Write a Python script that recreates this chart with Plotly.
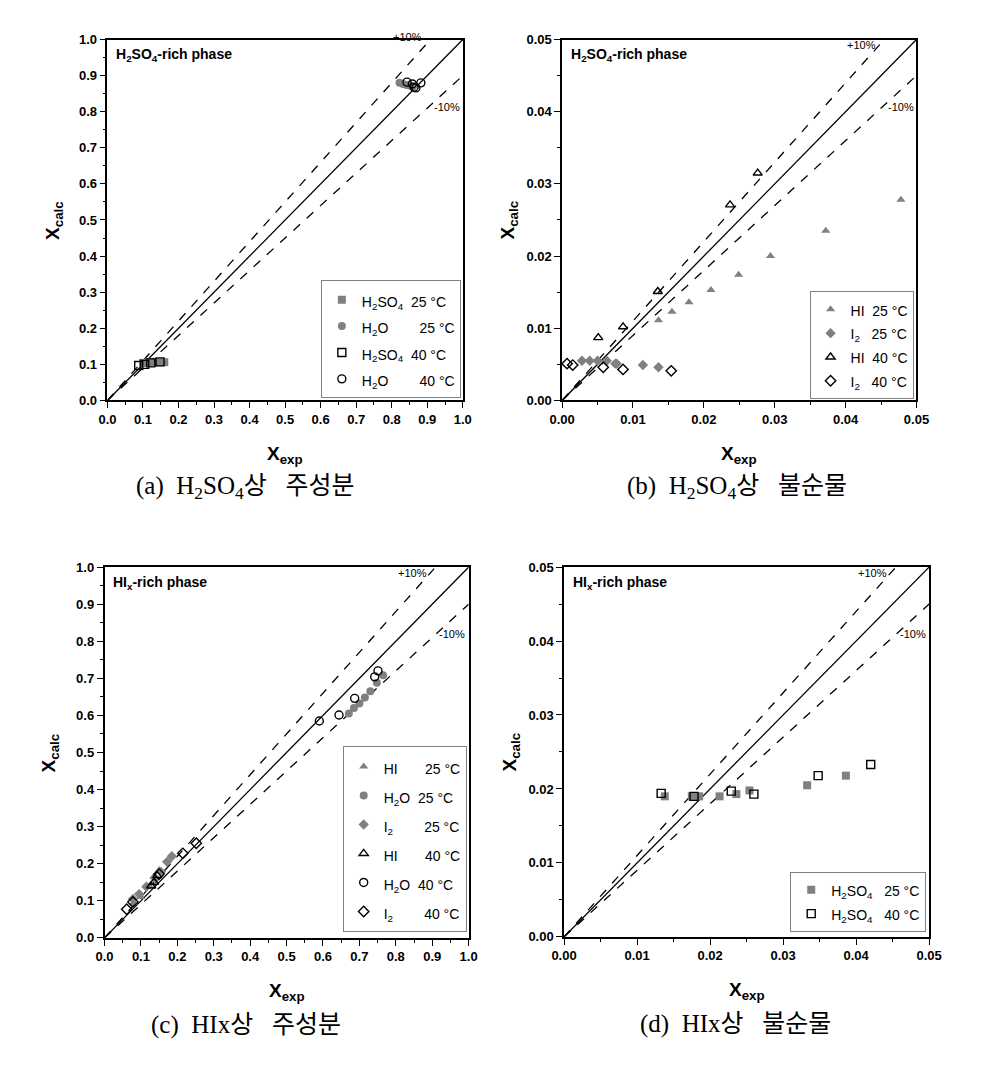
import plotly.graph_objects as go

# ---------------- data ----------------
# Panel (a): H2SO4-rich phase, main components
a_h2so4_25_x = [0.100, 0.115, 0.130, 0.145, 0.160]
a_h2so4_25_y = [0.104, 0.105, 0.105, 0.106, 0.106]
a_h2o_25_x = [0.822, 0.832, 0.842, 0.852, 0.860]
a_h2o_25_y = [0.880, 0.877, 0.874, 0.872, 0.870]
a_h2so4_40_x = [0.088, 0.105, 0.122, 0.148]
a_h2so4_40_y = [0.097, 0.100, 0.104, 0.107]
a_h2o_40_x = [0.843, 0.858, 0.863, 0.868, 0.882]
a_h2o_40_y = [0.882, 0.877, 0.868, 0.866, 0.880]

# Panel (b): H2SO4-rich phase, impurities
b_hi_25_x = [0.0136, 0.0155, 0.0179, 0.0210, 0.0249, 0.0294, 0.0372, 0.0478]
b_hi_25_y = [0.0111, 0.0123, 0.0136, 0.0153, 0.0174, 0.0200, 0.0235, 0.0278]
b_i2_25_x = [0.0028, 0.0039, 0.0050, 0.0063, 0.0075, 0.0077, 0.0114, 0.0136]
b_i2_25_y = [0.0055, 0.0055, 0.0055, 0.0055, 0.0051, 0.0051, 0.0049, 0.0046]
b_hi_40_x = [0.0051, 0.0086, 0.0135, 0.0237, 0.0276]
b_hi_40_y = [0.0087, 0.0102, 0.0151, 0.0271, 0.0315]
b_i2_40_x = [0.0007, 0.0015, 0.0058, 0.0086, 0.0154]
b_i2_40_y = [0.0051, 0.0049, 0.0046, 0.0043, 0.0041]

# Panel (c): HIx-rich phase, main components
c_hi_25_x = [0.080, 0.100, 0.123, 0.135, 0.150]
c_hi_25_y = [0.095, 0.110, 0.140, 0.165, 0.183]
c_h2o_25_x = [0.671, 0.685, 0.700, 0.715, 0.730, 0.748, 0.765]
c_h2o_25_y = [0.605, 0.620, 0.632, 0.648, 0.665, 0.688, 0.708]
c_i2_25_x = [0.078, 0.095, 0.115, 0.140, 0.155, 0.172, 0.185]
c_i2_25_y = [0.105, 0.118, 0.138, 0.160, 0.178, 0.205, 0.220]
c_hi_40_x = [0.128, 0.136, 0.145]
c_hi_40_y = [0.140, 0.150, 0.168]
c_h2o_40_x = [0.590, 0.644, 0.687, 0.742, 0.751]
c_h2o_40_y = [0.585, 0.601, 0.646, 0.704, 0.720]
c_i2_40_x = [0.061, 0.078, 0.150, 0.215, 0.252]
c_i2_40_y = [0.077, 0.097, 0.172, 0.228, 0.255]

# Panel (d): HIx-rich phase, impurity
d_h2so4_25_x = [0.0138, 0.0175, 0.0185, 0.0213, 0.0236, 0.0254, 0.0333, 0.0386]
d_h2so4_25_y = [0.0190, 0.0190, 0.0190, 0.0190, 0.0193, 0.0198, 0.0205, 0.0218]
d_h2so4_40_x = [0.0133, 0.0178, 0.0229, 0.0260, 0.0348, 0.0420]
d_h2so4_40_y = [0.0194, 0.0190, 0.0197, 0.0193, 0.0218, 0.0233]

ref_ratios = [1.0, 1.1, 0.9]

nb = "\u00a0"
captions = [f"(a){nb*2}H<sub>2</sub>SO<sub>4</sub>상{nb*3}주성분", f"(b){nb*2}H<sub>2</sub>SO<sub>4</sub>상{nb*3}불순물",
            f"(c){nb*2}HIx상{nb*3}주성분", f"(d){nb*2}HIx상{nb*3}불순물"]
phase_titles = ["<b>H<sub>2</sub>SO<sub>4</sub>-rich phase</b>", "<b>H<sub>2</sub>SO<sub>4</sub>-rich phase</b>",
                "<b>HI<sub>x</sub>-rich phase</b>", "<b>HI<sub>x</sub>-rich phase</b>"]

W, H = 984, 1077
GRAY = "#808080"
FONT = "Arial, Liberation Sans, sans-serif"

# pixel boxes (left, right, top, bottom)
boxes = {
    1: (97, 462, 33, 399),
    2: (564, 928, 33, 399),
    3: (94, 468, 568, 944),
    4: (566, 941, 568, 943),
}
caption_cx = {1: 239, 2: 744, 3: 239, 4: 742}
plus_dy = {1: -3, 2: 6, 3: 6, 4: 6}

def px2x(p): return p / W
def py2y(p): return 1 - p / H

fig = go.Figure()

def add_series(k, x, y, name, symbol, filled, legend):
    sfx = "" if k == 1 else str(k)
    if filled:
        marker = dict(symbol=symbol, size=8, color=GRAY, line=dict(width=0))
    else:
        marker = dict(symbol=symbol + "-open", size=8, color="black", line=dict(width=1.4, color="black"))
    fig.add_trace(go.Scatter(x=x, y=y, mode="markers", name=name, marker=marker,
                             xaxis="x" + sfx, yaxis="y" + sfx, legend=legend, cliponaxis=False))

def add_ref_lines(k, vmax):
    sfx = "" if k == 1 else str(k)
    for r in ref_ratios:
        fig.add_trace(go.Scatter(x=[0, vmax], y=[0, vmax * r], mode="lines",
                                 line=dict(color="black", width=1.3, dash="solid" if r == 1.0 else "dash"),
                                 showlegend=False, hoverinfo="skip", xaxis="x" + sfx, yaxis="y" + sfx))

for k, vmax in [(1, 1.0), (2, 0.05), (3, 1.0), (4, 0.05)]:
    add_ref_lines(k, vmax)

sp = "\u00a0"
def lbl(s):
    return f'<span style="font-size:14px">{s}</span>'

add_series(1, a_h2so4_25_x, a_h2so4_25_y, lbl(f"H<sub>2</sub>SO<sub>4</sub>{sp*2}25 °C"), "square", True, "legend")
add_series(1, a_h2o_25_x, a_h2o_25_y, lbl(f"H<sub>2</sub>O{sp*8}25 °C"), "circle", True, "legend")
add_series(1, a_h2so4_40_x, a_h2so4_40_y, lbl(f"H<sub>2</sub>SO<sub>4</sub>{sp*2}40 °C"), "square", False, "legend")
add_series(1, a_h2o_40_x, a_h2o_40_y, lbl(f"H<sub>2</sub>O{sp*8}40 °C"), "circle", False, "legend")

add_series(2, b_hi_25_x, b_hi_25_y, lbl(f"HI{sp*2}25 °C"), "triangle-up", True, "legend2")
add_series(2, b_i2_25_x, b_i2_25_y, lbl(f"I<sub>2</sub>{sp*3}25 °C"), "diamond", True, "legend2")
add_series(2, b_hi_40_x, b_hi_40_y, lbl(f"HI{sp*2}40 °C"), "triangle-up", False, "legend2")
add_series(2, b_i2_40_x, b_i2_40_y, lbl(f"I<sub>2</sub>{sp*3}40 °C"), "diamond", False, "legend2")

add_series(3, c_hi_25_x, c_hi_25_y, lbl(f"HI{sp*7}25 °C"), "triangle-up", True, "legend3")
add_series(3, c_h2o_25_x, c_h2o_25_y, lbl(f"H<sub>2</sub>O{sp*2}25 °C"), "circle", True, "legend3")
add_series(3, c_i2_25_x, c_i2_25_y, lbl(f"I<sub>2</sub>{sp*8}25 °C"), "diamond", True, "legend3")
add_series(3, c_hi_40_x, c_hi_40_y, lbl(f"HI{sp*7}40 °C"), "triangle-up", False, "legend3")
add_series(3, c_h2o_40_x, c_h2o_40_y, lbl(f"H<sub>2</sub>O{sp*2}40 °C"), "circle", False, "legend3")
add_series(3, c_i2_40_x, c_i2_40_y, lbl(f"I<sub>2</sub>{sp*8}40 °C"), "diamond", False, "legend3")

add_series(4, d_h2so4_25_x, d_h2so4_25_y, lbl(f"H<sub>2</sub>SO<sub>4</sub>{sp*3}25 °C"), "square", True, "legend4")
add_series(4, d_h2so4_40_x, d_h2so4_40_y, lbl(f"H<sub>2</sub>SO<sub>4</sub>{sp*3}40 °C"), "square", False, "legend4")

tickfont = dict(family=FONT, size=13, color="black", weight="bold")
layout = dict(width=W, height=H, margin=dict(l=0, r=0, t=0, b=0),
              plot_bgcolor="white", paper_bgcolor="white", font=dict(family=FONT, color="black"))

specs = {1: (1.0, 0.1, 0.05, ".1f"), 2: (0.05, 0.01, 0.005, ".2f"),
         3: (1.0, 0.1, 0.05, ".1f"), 4: (0.05, 0.01, 0.005, ".2f")}

annotations = []
for k, (l, r, t, b) in boxes.items():
    sfx = "" if k == 1 else str(k)
    vmax, dt, mdt, fmt = specs[k]
    common = dict(range=[0, vmax], dtick=dt, tick0=0, tickformat=fmt, ticks="outside", ticklen=6,
                  tickwidth=1.2, tickcolor="black", showline=True, linecolor="black", linewidth=1.5,
                  mirror=True, showgrid=False, zeroline=False, tickfont=tickfont,
                  minor=dict(dtick=mdt, ticks="outside", ticklen=3, tickcolor="black", tickwidth=1.2))
    layout["xaxis" + sfx] = dict(common, domain=[px2x(l), px2x(r)], anchor="y" + sfx)
    layout["yaxis" + sfx] = dict(common, domain=[py2y(b), py2y(t)], anchor="x" + sfx)
    cx = (l + r) / 2
    cy = (t + b) / 2
    # axis titles
    annotations.append(dict(text="<b>X<sub>exp</sub></b>", x=px2x(cx), y=py2y(b + 55), xref="paper", yref="paper",
                            showarrow=False, font=dict(family=FONT, size=19), xanchor="center", yanchor="middle"))
    annotations.append(dict(text="<b>X<sub>calc</sub></b>", x=px2x(l - 55), y=py2y(cy), xref="paper", yref="paper",
                            showarrow=False, font=dict(family=FONT, size=19), textangle=-90,
                            xanchor="center", yanchor="middle"))
    # phase title
    annotations.append(dict(text=phase_titles[k - 1], x=px2x(l + 7), y=py2y(t + 16), xref="paper", yref="paper",
                            showarrow=False, font=dict(family=FONT, size=14), xanchor="left", yanchor="middle"))
    # +10% / -10%
    annotations.append(dict(text="+10%", x=px2x(l + 0.845 * (r - l)), y=py2y(t + plus_dy[k]), xref="paper",
                            yref="paper", showarrow=False, font=dict(family=FONT, size=11),
                            xanchor="center", yanchor="middle"))
    annotations.append(dict(text="-10%", x=px2x(l + 0.955 * (r - l)), y=py2y(t + 68), xref="paper", yref="paper",
                            showarrow=False, font=dict(family=FONT, size=11), xanchor="center", yanchor="middle"))
    # caption
    annotations.append(dict(text=captions[k - 1], x=px2x(caption_cx[k]), y=py2y(b + 88), xref="paper", yref="paper",
                            showarrow=False, font=dict(family="Liberation Serif, Noto Sans CJK KR, serif", size=25),
                            xanchor="center", yanchor="middle"))

layout["annotations"] = annotations

legend_style = dict(bordercolor="#808080", borderwidth=1, bgcolor="white",
                    font=dict(family=FONT, size=18, color="black"), xanchor="right", yanchor="bottom",
                    itemsizing="trace", tracegroupgap=0)
layout["legend"] = dict(legend_style, x=px2x(boxes[1][1] - 2), y=py2y(boxes[1][3] - 2))
layout["legend2"] = dict(legend_style, x=px2x(boxes[2][1] - 3), y=py2y(boxes[2][3] - 1),
                         font=dict(family=FONT, size=16, color="black"))
layout["legend3"] = dict(legend_style, x=px2x(boxes[3][1] - 2), y=py2y(boxes[3][3] - 6),
                         font=dict(family=FONT, size=20, color="black"))
layout["legend4"] = dict(legend_style, x=px2x(boxes[4][1] - 3), y=py2y(boxes[4][3] - 5),
                         font=dict(family=FONT, size=16, color="black"))

fig.update_layout(**layout)
fig.write_html("out.html")
